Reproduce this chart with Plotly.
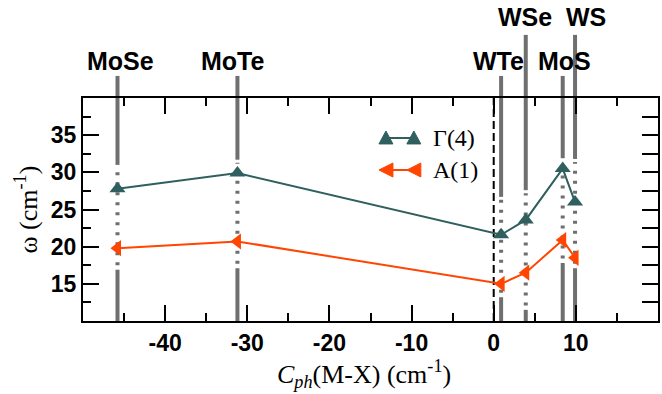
import plotly.graph_objects as go

# Compounds and their phonon coupling constants C_ph(M-X) in cm^-1
materials = ["MoSe", "MoTe", "WTe", "WSe", "MoS", "WS"]
c_ph = [-45.8, -31.2, 0.9, 3.9, 8.4, 9.9]

# Mode frequencies omega (cm^-1)
gamma4 = [27.8, 29.9, 21.6, 23.6, 30.5, 26.0]
a1 = [19.8, 20.7, 15.0, 16.5, 20.9, 18.5]

x_ticks = [-40, -30, -20, -10, 0, 10]
x_ticktext = ["-40", "-30", "-20", "-10", "0", "10"]
y_ticks = [15, 20, 25, 30, 35]

X_RANGE = [-50, 20]
Y_RANGE = [10, 40]

W, H = 662, 394
M_L, M_R, M_T, M_B = 83, 2, 98, 73
PLOT_W = W - M_L - M_R
PLOT_H = H - M_T - M_B

GRAY = "#6f6f6f"
TEAL = "#2f5f5f"
RED = "#ff4500"
SANS = "Liberation Sans, Arial, sans-serif"
SERIF = "Liberation Serif, Times New Roman, serif"

# Per-compound style of the marker lines: where the upper solid part stops,
# where the lower solid part starts, label row and label nudge (px)
line_style = {
    "MoSe": dict(hi=31.0, lo=16.9, top=1.099, row=0, dx=3),
    "MoTe": dict(hi=31.7, lo=17.1, top=1.099, row=0, dx=-4),
    "WTe": dict(hi=26.7, lo=13.2, top=1.099, row=0, dx=-3),
    "WSe": dict(hi=27.6, lo=11.5, top=1.283, row=1, dx=-1),
    "MoS": dict(hi=31.9, lo=17.8, top=1.099, row=0, dx=2),
    "WS": dict(hi=31.8, lo=17.1, top=1.283, row=1, dx=11),
}
label_y = [1.166, 1.364]


def pp(px, py):
    """Figure pixel position -> paper coordinates."""
    return (px - M_L) / PLOT_W, (H - M_B - py) / PLOT_H


fig = go.Figure()

fig.add_trace(go.Scatter(
    x=c_ph, y=gamma4, mode="lines+markers", name="Γ(4)",
    line=dict(color=TEAL, width=2),
    marker=dict(symbol="triangle-up", size=14, color=TEAL),
    showlegend=False,
))
fig.add_trace(go.Scatter(
    x=c_ph, y=a1, mode="lines+markers", name="A(1)",
    line=dict(color=RED, width=2),
    marker=dict(symbol="triangle-left", size=14, color=RED),
    showlegend=False,
))
# empty trace that carries the right-hand tick axis
fig.add_trace(go.Scatter(x=[None], y=[None], yaxis="y3", showlegend=False,
                         hoverinfo="skip"))

shapes = []
annotations = []
for name, xv in zip(materials, c_ph):
    st = line_style[name]
    seg = dict(type="line", xref="x", x0=xv, x1=xv, layer="below")
    # part above the frame
    shapes.append(dict(seg, yref="paper", y0=1, y1=st["top"],
                       line=dict(color=GRAY, width=4)))
    # upper solid part inside the frame
    shapes.append(dict(seg, yref="y", y0=st["hi"], y1=Y_RANGE[1],
                       line=dict(color=GRAY, width=4)))
    # dotted middle part
    shapes.append(dict(seg, yref="y", y0=st["lo"] + 0.6, y1=st["hi"] - 0.4,
                       line=dict(color=GRAY, width=4, dash="3px,7px")))
    # lower solid part
    shapes.append(dict(seg, yref="y", y0=Y_RANGE[0], y1=st["lo"],
                       line=dict(color=GRAY, width=4)))
    annotations.append(dict(
        text=name, x=xv, xref="x", y=label_y[st["row"]], yref="paper",
        xanchor="center", yanchor="middle", xshift=st["dx"], showarrow=False,
        font=dict(family=SANS, size=25, color="black", weight="bold"),
    ))

# dashed reference line at C_ph = 0
shapes.append(dict(type="line", xref="x", x0=0, x1=0, yref="paper", y0=0, y1=1,
                   line=dict(color="black", width=2, dash="8px,4px"),
                   layer="below"))


# legend: a short line with a symbol at each end, then the label
def tri_path(cx, cy, kind, s=7):
    if kind == "up":
        pts = [(cx - s, cy + s * 0.85), (cx + s, cy + s * 0.85), (cx, cy - s)]
    else:
        pts = [(cx - s, cy), (cx + s, cy - s), (cx + s, cy + s)]
    pts = [pp(*p) for p in pts]
    return "M{},{} L{},{} L{},{} Z".format(*[v for p in pts for v in p])


legend_rows = [("Γ(4)", TEAL, "up", 138), ("A(1)", RED, "left", 170)]
for label, color, kind, row_y in legend_rows:
    xa, ya = pp(387, row_y)
    xb, _ = pp(415, row_y)
    shapes.append(dict(type="line", xref="paper", yref="paper",
                       x0=xa, x1=xb, y0=ya, y1=ya,
                       line=dict(color=color, width=2)))
    for cx in (387, 415):
        shapes.append(dict(type="path", xref="paper", yref="paper",
                           path=tri_path(cx, row_y, kind),
                           fillcolor=color, line=dict(color=color, width=1)))
    tx, ty = pp(432, row_y)
    annotations.append(dict(
        text=label, xref="paper", yref="paper", x=tx, y=ty,
        xanchor="left", yanchor="middle", showarrow=False,
        font=dict(family=SERIF, size=24, color="black"),
    ))

# axis titles
annotations.append(dict(
    text="ω (cm<sup>-1</sup>)", xref="paper", x=0, xshift=-56,
    yref="paper", y=0.5, textangle=-90, showarrow=False,
    xanchor="center", yanchor="middle",
    font=dict(family=SERIF, size=26, color="black"),
))
annotations.append(dict(
    text="<i>C</i><sub><i>ph</i></sub>(M-X) (cm<sup>-1</sup>)",
    xref="paper", x=0.489, yref="paper", y=0, yshift=-33,
    showarrow=False, xanchor="center", yanchor="top",
    font=dict(family=SERIF, size=26, color="black"),
))

tickfont = dict(family=SANS, size=23, color="black", weight="bold")

fig.update_layout(
    width=W, height=H,
    margin=dict(l=M_L, r=M_R, t=M_T, b=M_B),
    paper_bgcolor="white", plot_bgcolor="white",
    shapes=shapes, annotations=annotations,
    showlegend=False,
    xaxis=dict(
        range=X_RANGE, tickvals=x_ticks, ticktext=x_ticktext, ticks="inside",
        ticklen=16, tickwidth=2, tickcolor="black", showline=True,
        linewidth=2, linecolor="black", mirror="ticks", showgrid=False,
        zeroline=False, tickfont=tickfont,
        minor=dict(tickvals=[-45, -35, -25, -15, -5, 5, 15], ticks="inside",
                   ticklen=8, tickwidth=2, tickcolor="black"),
    ),
    yaxis=dict(
        range=Y_RANGE, tickvals=y_ticks, ticks="inside", ticklen=16,
        tickwidth=2, tickcolor="black", showline=True, linewidth=2,
        linecolor="black", mirror=True, showgrid=False, zeroline=False,
        tickfont=tickfont,
        minor=dict(dtick=2.5, tick0=10, ticks="inside", ticklen=8,
                   tickwidth=2, tickcolor="black"),
    ),
    yaxis3=dict(
        range=Y_RANGE, overlaying="y", side="right", anchor="x",
        tickvals=[12.5, 15, 17.5, 20, 22.5, 25, 27.5, 30, 32.5, 35, 37.5],
        ticks="inside", ticklen=16, tickwidth=2, tickcolor="black",
        showticklabels=False, showgrid=False, zeroline=False, showline=False,
    ),
)

fig.write_html("out.html")
